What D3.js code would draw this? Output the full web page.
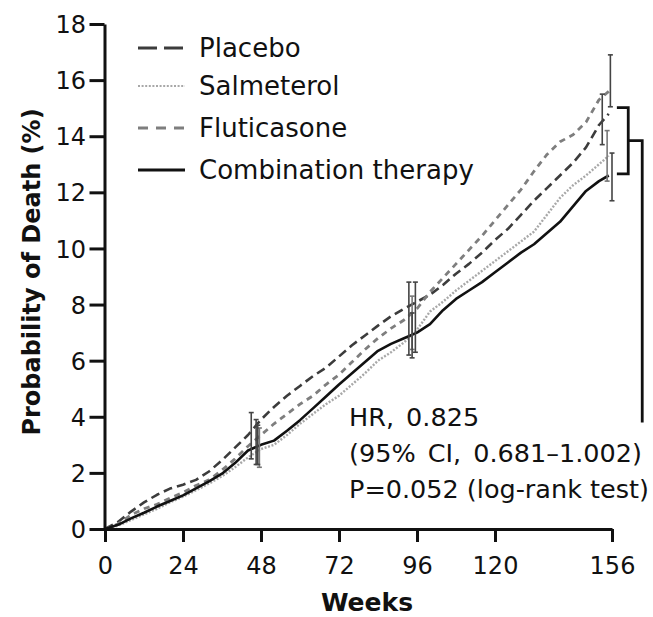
<!DOCTYPE html>
<html><head><meta charset="utf-8">
<script src="https://cdn.jsdelivr.net/npm/d3@7"></script>
<style>
body{margin:0;background:#fff}
svg{display:block}
text{font-family:"DejaVu Sans",sans-serif;fill:#111}
</style>
</head><body>
<svg id="chart" width="653" height="617"></svg>
<script>
// ---------- data ----------
const weeks = [0,4,8,12,16,20,24,28,32,36,40,44,48,52,56,60,64,68,72,76,80,84,88,92,96,100,104,108,112,116,120,124,128,132,136,140,144,148,152,155];
const placebo = [0,0.25,0.62,0.95,1.22,1.44,1.58,1.75,2.05,2.45,2.9,3.35,3.9,4.35,4.75,5.1,5.45,5.75,6.15,6.55,6.9,7.25,7.58,7.85,8.1,8.35,8.7,9.1,9.45,9.85,10.3,10.7,11.2,11.7,12.15,12.6,13.05,13.6,14.4,14.8];
const salmeterol = [0,0.12,0.32,0.52,0.72,0.95,1.15,1.38,1.62,1.88,2.2,2.55,2.85,3.0,3.35,3.75,4.1,4.45,4.75,5.15,5.55,6.0,6.3,6.65,7.1,7.75,8.1,8.5,8.85,9.2,9.55,9.9,10.25,10.6,11.2,11.8,12.25,12.6,13.0,13.3];
const fluticasone = [0,0.18,0.5,0.72,0.88,1.1,1.3,1.55,1.75,2.1,2.5,2.95,3.35,3.75,4.1,4.45,4.75,5.15,5.5,5.95,6.4,6.8,7.15,7.45,7.85,8.45,8.95,9.45,9.95,10.45,11.0,11.55,12.1,12.75,13.35,13.8,14.05,14.5,15.3,15.6];
const combination = [0,0.15,0.38,0.58,0.8,1.0,1.2,1.45,1.7,1.97,2.35,2.8,3.0,3.15,3.5,3.88,4.3,4.72,5.15,5.55,5.95,6.35,6.6,6.8,7.0,7.3,7.8,8.2,8.5,8.8,9.15,9.5,9.85,10.15,10.55,10.95,11.5,12.05,12.4,12.6];

// 95% CI bars: [week, low, high]
const ciPlacebo = [[45,2.5,4.15],[93.5,6.2,8.8],[153,13.7,15.5]];
const ciSalmeterol = [[47.5,2.2,3.6],[94.5,6.4,8.3],[154.5,12.4,14.2]];
const ciFluticasone = [[46.5,2.3,3.9],[95.5,6.3,8.8],[155.5,15.05,16.9]];
const ciCombination = [[47,2.3,3.7],[94.5,6.1,7.7],[156,11.7,13.4]];

const seriesNames = ["Placebo","Salmeterol","Fluticasone","Combination therapy"];
const xTicks = [0,24,48,72,96,120,156];
const yTicks = [0,2,4,6,8,10,12,14,16,18];
const xLabel = "Weeks";
const yLabel = "Probability of Death (%)";
const statLines = ["HR, 0.825","(95% CI, 0.681\u20131.002)","P=0.052 (log-rank test)"];
// comparison bracket (weeks / % values)
const bracketWeeks = [157.5,161,165.3];
const bracketValues = [15.02,12.66,13.84,3.8];

// ---------- styles ----------
const styles = [
  {color:"#3c3c3c", dash:"9,5", legendDash:"19,7", width:2.6},
  {color:"#a8a8a8", dash:"2,1.6", legendDash:"2,1.6", width:2.4},
  {color:"#7e7e7e", dash:"6,5", legendDash:"10,8", width:2.8},
  {color:"#111", dash:null, legendDash:null, width:2.6}
];
const seriesValues = [placebo, salmeterol, fluticasone, combination];
const seriesCI = [ciPlacebo, ciSalmeterol, ciFluticasone, ciCombination];

const svg = d3.select("#chart");
const x = d3.scaleLinear().domain([0,156]).range([105,612]);
const y = d3.scaleLinear().domain([0,18]).range([529,24]);

// curves
const line = d3.line().x(d=>x(d[0])).y(d=>y(d[1])).curve(d3.curveLinear);
const drawOrder = [1,0,2,3];
drawOrder.forEach(i=>{
  const pts = weeks.map((w,k)=>[w, seriesValues[i][k]]);
  svg.append("path").attr("d", line(pts))
    .attr("fill","none").attr("stroke",styles[i].color)
    .attr("stroke-width",styles[i].width)
    .attr("stroke-dasharray",styles[i].dash)
    .attr("stroke-linejoin","round");
});

// CI bars
seriesCI.forEach((arr,i)=>{
  const g = svg.append("g").attr("stroke", i===1 ? "#777" : "#444").attr("stroke-width",1.6);
  arr.forEach(([w,lo,hi])=>{
    g.append("line").attr("x1",x(w)).attr("x2",x(w)).attr("y1",y(lo)).attr("y2",y(hi));
    g.append("line").attr("x1",x(w)-2.5).attr("x2",x(w)+2.5).attr("y1",y(lo)).attr("y2",y(lo));
    g.append("line").attr("x1",x(w)-2.5).attr("x2",x(w)+2.5).attr("y1",y(hi)).attr("y2",y(hi));
  });
});

// bracket
const bk = svg.append("g").attr("fill","none").attr("stroke","#111").attr("stroke-width",2.8);
bk.append("path").attr("d",
  `M${x(bracketWeeks[0])},${y(bracketValues[0])}H${x(bracketWeeks[1])}V${y(bracketValues[1])}H${x(bracketWeeks[0])}`);
bk.append("path").attr("d",
  `M${x(bracketWeeks[1])},${y(bracketValues[2])}H${x(bracketWeeks[2])}V${y(bracketValues[3])}`);

// axes
const xAxis = svg.append("g").attr("transform","translate(0,529)")
  .call(d3.axisBottom(x).tickValues(xTicks).tickSize(13).tickSizeOuter(0).tickFormat(d3.format("d")));
const yAxis = svg.append("g").attr("transform","translate(104.5,0)")
  .call(d3.axisLeft(y).tickValues(yTicks).tickSize(15).tickSizeOuter(0).tickPadding(3.5).tickFormat(d3.format("d")));
[xAxis,yAxis].forEach(a=>{
  a.attr("font-family",null).attr("font-size",null);
  a.select(".domain").attr("stroke","#111").attr("stroke-width",3);
  a.selectAll(".tick line").attr("stroke","#111").attr("stroke-width",3);
  a.selectAll(".tick text").attr("fill","#111").style("font-size","24px");
});
xAxis.selectAll(".tick text").attr("y",45).attr("dy",null);
yAxis.selectAll(".tick text").attr("dy","0.36em");

// axis titles
svg.append("text").attr("x",367).attr("y",611).attr("text-anchor","middle")
  .style("font-size","25px").style("font-weight","bold").text(xLabel);
svg.append("text").attr("transform","translate(40,272) rotate(-90)").attr("text-anchor","middle")
  .style("font-size","24px").style("font-weight","bold").text(yLabel);

// legend
const legendY = [48,86,128,170];
seriesNames.forEach((n,i)=>{
  svg.append("line").attr("x1",138).attr("x2",185).attr("y1",legendY[i]).attr("y2",legendY[i])
    .attr("stroke",styles[i].color).attr("stroke-width",i===1?2.2:2.8)
    .attr("stroke-dasharray",styles[i].legendDash);
  svg.append("text").attr("x",199).attr("y",legendY[i]+8.5).style("font-size","26px").text(n);
});

// stats annotation
statLines.forEach((t,i)=>{
  svg.append("text").attr("x",349).attr("y",426+i*36).style("font-size","25.5px")
    .style("word-spacing", i<2 ? "4px" : "0px").text(t);
});
</script>
</body></html>
